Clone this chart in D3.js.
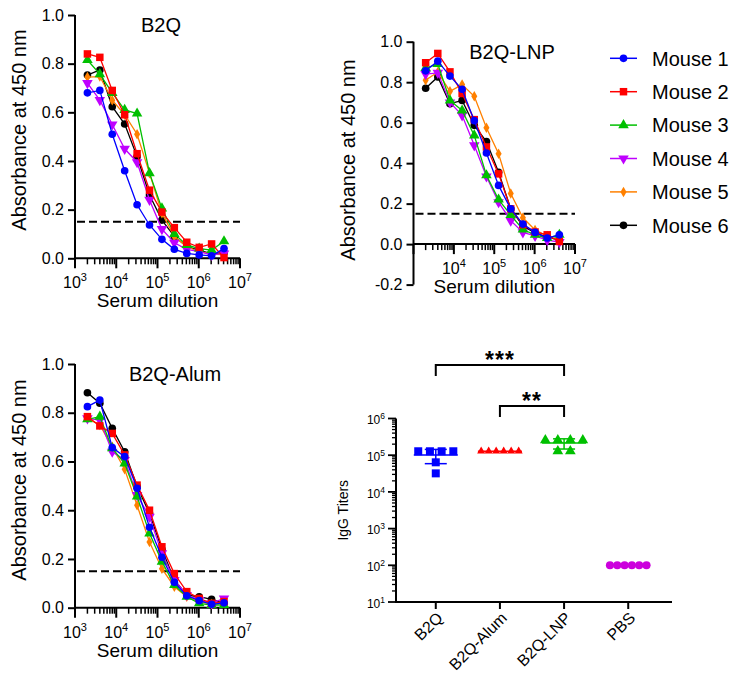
<!DOCTYPE html>
<html><head><meta charset="utf-8">
<script src="https://cdn.jsdelivr.net/npm/d3@7"></script>
<style>
body{margin:0;background:#fff}
svg{display:block}
text{font-family:"Liberation Sans",Arial,sans-serif;fill:#000}
</style>
</head><body>
<svg id="c" width="738" height="681"></svg>
<script>
// ---------------- DATA ----------------
const dilutions = [2000,4000,8000,16000,32000,64000,128000,256000,512000,1024000,2048000,4096000];
const mice = ["Mouse 1","Mouse 2","Mouse 3","Mouse 4","Mouse 5","Mouse 6"];
const mouseColors = ["#0000FF","#FF0000","#00C000","#BF00FF","#FF8000","#000000"];
const cutoff = 0.15;

const b2qValues = [
  [0.68,0.69,0.51,0.36,0.22,0.137,0.078,0.037,0.02,0.014,0.01,0.04],
  [0.84,0.826,0.69,0.59,0.43,0.28,0.19,0.126,0.066,0.045,0.059,0.003],
  [0.815,0.757,0.68,0.61,0.595,0.35,0.205,0.10,0.055,0.04,0.034,0.07],
  [0.72,0.65,0.55,0.45,0.395,0.24,0.12,0.064,0.037,0.027,0.014,0.02],
  [0.745,0.747,0.65,0.59,0.51,0.35,0.185,0.09,0.048,0.027,0.018,0.014],
  [0.753,0.774,0.623,0.552,0.418,0.26,0.157,0.09,0.048,0.034,0.018,0.023]
];
const lnpValues = [
  [0.856,0.904,0.83,0.765,0.61,0.45,0.29,0.174,0.099,0.058,0.03,0.046],
  [0.896,0.942,0.851,0.744,0.615,0.48,0.347,0.174,0.096,0.06,0.046,0.013],
  [0.87,0.89,0.71,0.66,0.537,0.34,0.22,0.144,0.072,0.046,0.03,0.046],
  [0.84,0.846,0.70,0.636,0.488,0.334,0.207,0.116,0.058,0.041,0.02,0.01],
  [0.81,0.85,0.755,0.788,0.73,0.575,0.446,0.25,0.13,0.07,0.04,0.02],
  [0.77,0.826,0.694,0.71,0.587,0.507,0.355,0.174,0.09,0.055,0.035,0.02]
];
const alumValues = [
  [0.825,0.852,0.657,0.62,0.49,0.33,0.207,0.104,0.049,0.029,0.014,0.02],
  [0.784,0.746,0.715,0.627,0.503,0.40,0.25,0.14,0.066,0.038,0.018,0.025],
  [0.773,0.784,0.654,0.592,0.456,0.305,0.189,0.093,0.045,0.018,0.011,0.011],
  [0.777,0.77,0.64,0.606,0.462,0.373,0.223,0.114,0.052,0.031,0.018,0.038],
  [0.777,0.75,0.66,0.568,0.42,0.27,0.16,0.086,0.045,0.025,0.015,0.018],
  [0.882,0.839,0.736,0.64,0.497,0.387,0.24,0.114,0.052,0.045,0.034,0.018]
];
const absTicks = [0,0.2,0.4,0.6,0.8,1.0];
const absTicksLNP = [-0.2,0,0.2,0.4,0.6,0.8,1.0];
const dilutionDecades = [3,4,5,6,7];

const titerGroups = ["B2Q","B2Q-Alum","B2Q-LNP","PBS"];
const titerB2Q  = [128000,128000,128000,128000,64000,32000];
const titerAlum = [128000,128000,128000,128000,128000,128000];
const titerLNP  = [256000,256000,256000,256000,128000,128000];
const titerPBS  = [100,100,100,100,100,100];
const titerColors = ["#0000FF","#FF0000","#00C000","#CC00DD"];
const titerDecades = [1,2,3,4,5,6];
const sigPairs = [["B2Q","B2Q-LNP","***"],["B2Q-Alum","B2Q-LNP","**"]];

// ---------------- DRAW ----------------
const svg = d3.select("#c");
const triDown = {draw(ctx,size){
  const s = Math.sqrt(size*4/Math.sqrt(3));
  const h = s*Math.sqrt(3)/2; ctx.moveTo(0,h*2/3); ctx.lineTo(s/2,-h/3); ctx.lineTo(-s/2,-h/3); ctx.closePath(); }};
const mouseSymbols = [
  d3.symbol(d3.symbolCircle,46),
  d3.symbol(d3.symbolSquare,56),
  d3.symbol(d3.symbolTriangle,48),
  d3.symbol(triDown,48),
  d3.symbol(d3.symbolDiamond,32),
  d3.symbol(d3.symbolCircle,46)
];

function supLabel(sel, base, exp, fs, sfs, dy){
  sel.append("tspan").text(base).style("font-size",fs+"px");
  sel.append("tspan").text(exp).style("font-size",sfs+"px").attr("dy",-dy);
}

function absPanel(cfg){
  const g = svg.append("g");
  const x = d3.scaleLog().domain([1e3,1e7]).range([cfg.x0,cfg.x1]);
  const y = d3.scaleLinear().domain(cfg.yDomain).range([cfg.yBottom,cfg.yTop]);
  const y0 = y(0);
  const ya = g.append("g").attr("transform",`translate(${cfg.x0},0)`)
    .call(d3.axisLeft(y).tickValues(cfg.yTicks).tickSize(7).tickPadding(4).tickFormat(d3.format(".1f")));
  ya.select(".domain").attr("stroke-width",2).attr("d",`M0,${y(cfg.yDomain[0])}V${y(cfg.yDomain[1])}`);
  ya.selectAll(".tick line").attr("stroke-width",2);
  ya.selectAll(".tick text").style("font-size","16px").attr("fill","#000")
    .text(d=> d<0 ? "-"+Math.abs(d).toFixed(1) : d.toFixed(1));
  const minors = [];
  for(let k=3;k<7;k++) for(let m=2;m<=9;m++) minors.push(m*Math.pow(10,k));
  const xa = g.append("g").attr("transform",`translate(0,${y0})`);
  xa.append("line").attr("x1",cfg.x0).attr("x2",cfg.x1).attr("stroke","#000").attr("stroke-width",2);
  xa.selectAll(".mn").data(minors).join("line").attr("class","mn")
    .attr("x1",d=>x(d)).attr("x2",d=>x(d)).attr("y1",0).attr("y2",6).attr("stroke","#000").attr("stroke-width",1.5);
  xa.selectAll(".mj").data(dilutionDecades).join("line").attr("class","mj")
    .attr("x1",d=>x(Math.pow(10,d))).attr("x2",d=>x(Math.pow(10,d))).attr("y1",0).attr("y2",10).attr("stroke","#000").attr("stroke-width",2);
  cfg.labelDecades.forEach(d=>{
    const t = xa.append("text").attr("x",x(Math.pow(10,d))).attr("y",30).attr("text-anchor","middle");
    supLabel(t,"10",String(d),16,11,7);
  });
  g.append("line").attr("x1",cfg.x0+2).attr("x2",cfg.x1).attr("y1",y(cutoff)).attr("y2",y(cutoff))
    .attr("stroke","#000").attr("stroke-width",2).attr("stroke-dasharray","8,4");
  const line = d3.line().x((d,i)=>x(dilutions[i])).y(d=>y(d));
  for(let s=cfg.values.length-1;s>=0;s--){
    const vals = cfg.values[s];
    g.append("path").attr("d",line(vals)).attr("fill","none").attr("stroke",mouseColors[s]).attr("stroke-width",1.3);
    g.selectAll(null).data(vals).join("path")
      .attr("transform",(d,i)=>`translate(${x(dilutions[i])},${y(d)})`)
      .attr("d",mouseSymbols[s]).attr("fill",mouseColors[s]);
  }
  g.append("text").attr("x",cfg.titleX).attr("y",cfg.yTop+17).attr("text-anchor","middle").style("font-size","20px").text(cfg.title);
  g.append("text").attr("x",(cfg.x0+cfg.x1)/2).attr("y",y0+49).attr("text-anchor","middle").style("font-size","19px").text("Serum dilution");
  g.append("text").attr("transform",`translate(${cfg.ylabX},${cfg.ylabY}) rotate(-90)`).attr("text-anchor","middle")
    .attr("dy","0.35em").style("font-size","20px").text("Absorbance at 450 nm");
}

absPanel({x0:75,x1:240,yDomain:[0,1],yBottom:258.3,yTop:15,yTicks:absTicks,values:b2qValues,
  labelDecades:[3,4,5,6,7],title:"B2Q",titleX:161,ylabX:19,ylabY:130});
absPanel({x0:413.5,x1:575,yDomain:[-0.2,1],yBottom:284.6,yTop:41.7,yTicks:absTicksLNP,values:lnpValues,
  labelDecades:[4,5,6,7],title:"B2Q-LNP",titleX:512,ylabX:348,ylabY:160});
absPanel({x0:75,x1:240,yDomain:[0,1],yBottom:607.7,yTop:364,yTicks:absTicks,values:alumValues,
  labelDecades:[3,4,5,6,7],title:"B2Q-Alum",titleX:175,ylabX:19,ylabY:480});

// legend
const lg = svg.append("g");
mice.forEach((m,i)=>{
  const yy = 58.3 + i*33.4;
  lg.append("line").attr("x1",610).attr("x2",637).attr("y1",yy).attr("y2",yy).attr("stroke",mouseColors[i]).attr("stroke-width",1.5);
  lg.append("path").attr("transform",`translate(623.5,${yy})`).attr("d",mouseSymbols[i]).attr("fill",mouseColors[i]);
  lg.append("text").attr("x",652).attr("y",yy).attr("dy","0.36em").style("font-size","20px").text(m);
});

// ---------------- TITER PANEL ----------------
const tg = svg.append("g");
const tx = d3.scalePoint().domain(titerGroups).range([396,668]).padding(0.62);
const ty = d3.scaleLog().domain([10,1e6]).range([602,418.5]);
const tAxisX0 = 396, tAxisX1 = 672;
const tminors = [];
for(let k=1;k<6;k++) for(let m=2;m<=9;m++) tminors.push(m*Math.pow(10,k));
const tya = tg.append("g").attr("transform",`translate(${tAxisX0},0)`);
tya.append("line").attr("y1",ty(10)).attr("y2",ty(1e6)).attr("stroke","#000").attr("stroke-width",2);
tya.selectAll(".mn").data(tminors).join("line").attr("y1",d=>ty(d)).attr("y2",d=>ty(d)).attr("x1",-4).attr("x2",0).attr("stroke","#000").attr("stroke-width",1.3);
tya.selectAll(".mj").data(titerDecades).join("line").attr("y1",d=>ty(Math.pow(10,d))).attr("y2",d=>ty(Math.pow(10,d))).attr("x1",-8).attr("x2",0).attr("stroke","#000").attr("stroke-width",1.8);
titerDecades.forEach(d=>{
  const t = tya.append("text").attr("x",-11).attr("y",ty(Math.pow(10,d))).attr("dy","0.35em").attr("text-anchor","end");
  supLabel(t,"10",String(d),12,8.5,5);
});
tg.append("text").attr("transform",`translate(343,${(ty(10)+ty(1e6))/2}) rotate(-90)`).attr("text-anchor","middle")
  .attr("dy","0.35em").style("font-size","14px").text("IgG Titers");
tg.append("line").attr("x1",tAxisX0-1).attr("x2",tAxisX1).attr("y1",602).attr("y2",602).attr("stroke","#000").attr("stroke-width",2);
titerGroups.forEach(gn=>{
  tg.append("line").attr("x1",tx(gn)).attr("x2",tx(gn)).attr("y1",602).attr("y2",609).attr("stroke","#000").attr("stroke-width",2);
  tg.append("text").attr("transform",`translate(${tx(gn)+4},${615}) rotate(-45)`).attr("text-anchor","end")
    .attr("dy","0.35em").style("font-size","16px").text(gn);
});
const titerData = [titerB2Q,titerAlum,titerLNP,titerPBS];
const titerSymbols = [d3.symbol(d3.symbolSquare,64),d3.symbol(d3.symbolTriangle,28),d3.symbol(d3.symbolTriangle,50),d3.symbol(d3.symbolCircle,52)];
const titerSpacing = [11.7,7.5,12.5,7.3];
titerData.forEach((vals,gi)=>{
  const gn = titerGroups[gi];
  const cx = tx(gn);
  const counts = d3.rollup(vals,v=>v.length,d=>d);
  const seen = new Map();
  const pts = vals.map(v=>{
    const n = counts.get(v); const k = seen.get(v)||0; seen.set(v,k+1);
    return {v, px: cx + (k-(n-1)/2)*titerSpacing[gi]};
  });
  const mean = d3.mean(vals), sd = d3.deviation(vals);
  const col = titerColors[gi];
  if(sd>0){
    tg.append("line").attr("x1",cx).attr("x2",cx).attr("y1",ty(mean+sd)).attr("y2",ty(mean-sd)).attr("stroke",col).attr("stroke-width",1.5);
    [mean+sd,mean-sd].forEach(v=>tg.append("line").attr("x1",cx-11).attr("x2",cx+11).attr("y1",ty(v)).attr("y2",ty(v)).attr("stroke",col).attr("stroke-width",1.5));
  }
  tg.selectAll(null).data(pts).join("path").attr("transform",d=>`translate(${d.px},${ty(d.v)})`)
    .attr("d",titerSymbols[gi]).attr("fill",col);
  tg.append("line").attr("x1",cx-22).attr("x2",cx+22).attr("y1",ty(mean)).attr("y2",ty(mean)).attr("stroke",col).attr("stroke-width",1.5);
});
const bracketY = [365,406];
sigPairs.forEach((p,i)=>{
  const a = tx(p[0]), b = tx(p[1]), yy = bracketY[i];
  tg.append("path").attr("d",`M${a},${yy+11}V${yy}H${b}V${yy+11}`).attr("fill","none").attr("stroke","#000").attr("stroke-width",2);
  tg.append("text").attr("x",(a+b)/2).attr("y",yy+3).attr("text-anchor","middle").style("font-size","23px").style("font-weight","bold").style("letter-spacing","1px").text(p[2]);
});
</script>
</body></html>
